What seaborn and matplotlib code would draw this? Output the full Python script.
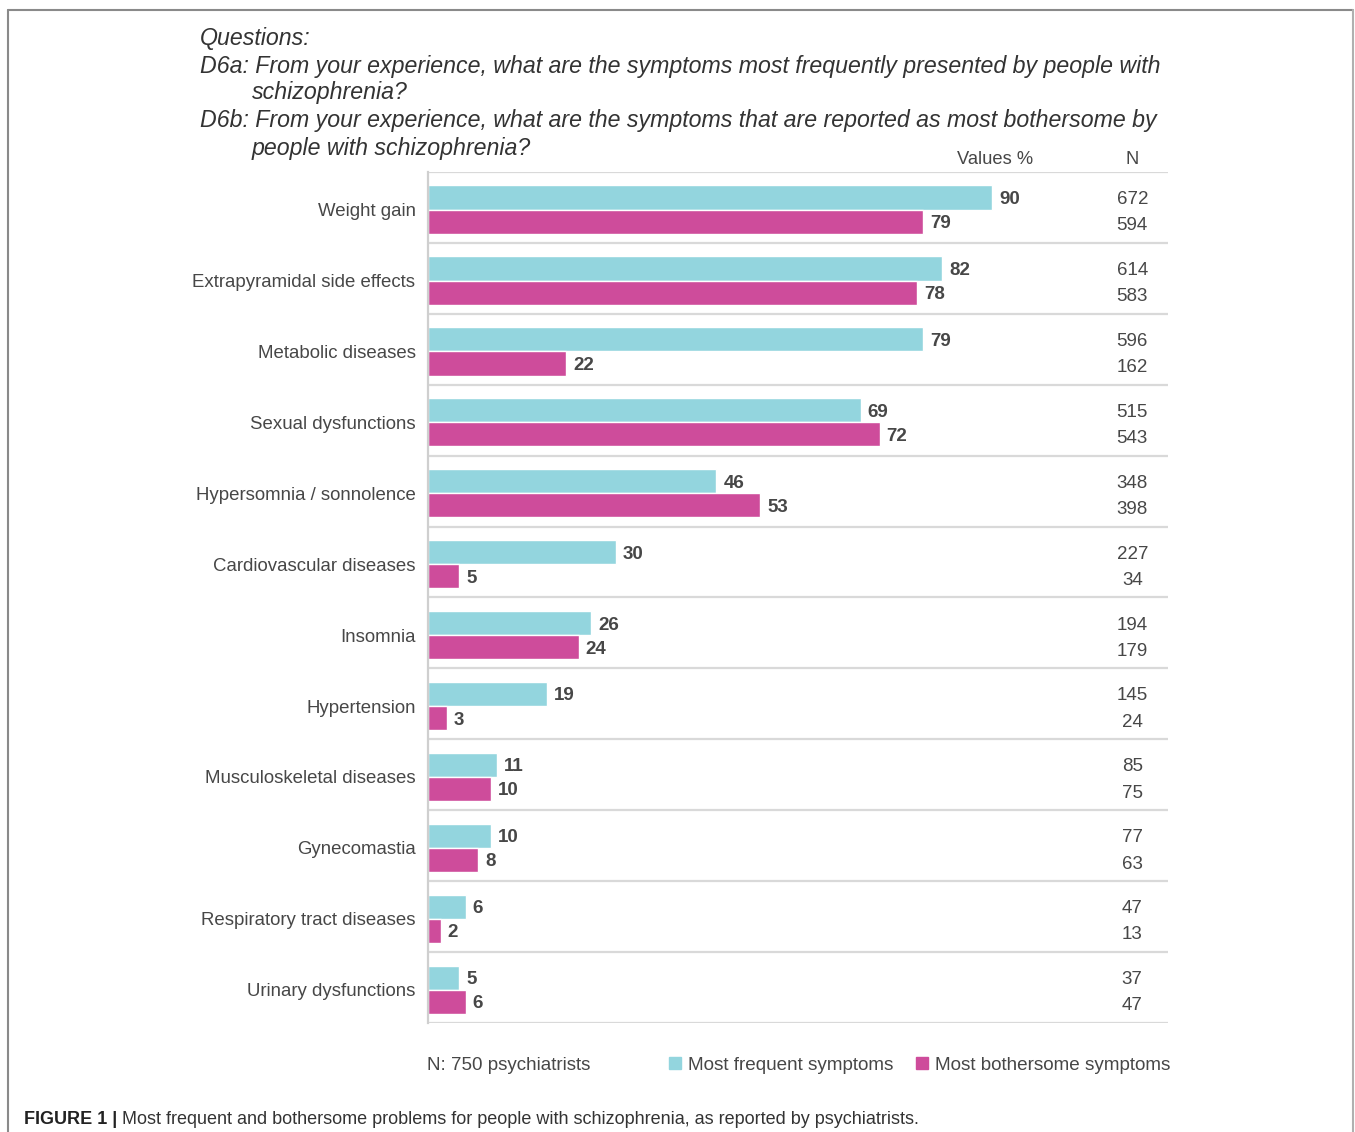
import matplotlib
matplotlib.use("Agg")
import matplotlib.pyplot as plt
import seaborn as sns
import pandas as pd
from matplotlib.lines import Line2D

# Survey results: share of psychiatrists (%) and counts (N)
symptoms = [
    "Weight gain", "Extrapyramidal side effects", "Metabolic diseases",
    "Sexual dysfunctions", "Hypersomnia / sonnolence", "Cardiovascular diseases",
    "Insomnia", "Hypertension", "Musculoskeletal diseases", "Gynecomastia",
    "Respiratory tract diseases", "Urinary dysfunctions",
]
frequent_pct = [90, 82, 79, 69, 46, 30, 26, 19, 11, 10, 6, 5]
bothersome_pct = [79, 78, 22, 72, 53, 5, 24, 3, 10, 8, 2, 6]
frequent_n = [672, 614, 596, 515, 348, 227, 194, 145, 85, 77, 47, 37]
bothersome_n = [594, 583, 162, 543, 398, 34, 179, 24, 75, 63, 13, 47]
series_names = ["Most frequent symptoms", "Most bothersome symptoms"]

CYAN = "#93D5DE"
MAGENTA = "#CE4C9B"
TEXT = "#474747"
GRID = "#d9d9d9"

sns.set_theme(style="white")
plt.rcParams["font.family"] = ["Liberation Sans", "DejaVu Sans"]

df = pd.DataFrame({
    "symptom": symptoms * 2,
    "value": frequent_pct + bothersome_pct,
    "series": [series_names[0]] * len(symptoms) + [series_names[1]] * len(symptoms),
})

W, H = 1355, 1132
fig = plt.figure(figsize=(W / 100, H / 100), dpi=100)
ax = fig.add_axes([428 / W, 1 - 1023 / H, (1168 - 428) / W, (1023 - 172) / H])

sns.barplot(data=df, y="symptom", x="value", hue="series", orient="h",
            palette=[CYAN, MAGENTA], width=0.68, ax=ax, legend=False,
            saturation=1, errorbar=None)

# rows sit slightly below the centre of each band
off = 0.53
ax.set_xlim(0, 118)
ax.set_ylim(len(symptoms) - off, -off)
ax.set_xlabel("")
ax.set_ylabel("")
ax.set_xticks([])
ax.tick_params(axis="y", length=0, pad=9, labelsize=13.4, labelcolor=TEXT)

for side in ["top", "right", "bottom"]:
    ax.spines[side].set_visible(False)
ax.spines["left"].set_color("#cfcfcf")
ax.spines["left"].set_linewidth(1.6)

# horizontal separators between categories
for k in range(len(symptoms) + 1):
    ax.axhline(k - off, color=GRID, lw=1.6, zorder=0)

# value labels and N column
n_lists = [frequent_n, bothersome_n]
n_shift = [0.0, 0.03]
for cont, ns, dy in zip(ax.containers, n_lists, n_shift):
    labels = ax.bar_label(cont, fmt="{:.0f}", padding=5, fontsize=13.5,
                          fontweight="bold", color=TEXT)
    for t in labels:
        t.set_verticalalignment("center_baseline")
    for patch, n in zip(cont.patches, ns):
        yc = patch.get_y() + patch.get_height() / 2 + dy
        ax.text(112.3, yc, str(n), ha="center", va="center_baseline",
                fontsize=13.5, color=TEXT)

ax.text(90.5, -off - 0.18, "Values %", ha="center", va="center", fontsize=13.2, color=TEXT)
ax.text(112.3, -off - 0.18, "N", ha="center", va="center", fontsize=13.2, color=TEXT)

# question header
qcolor = "#333333"
qsize = 16.7
fig.text(200 / W, 1 - 38 / H, "Questions:", fontsize=qsize, style="italic",
         color=qcolor, va="center")
fig.text(200 / W, 1 - 66 / H,
         "D6a: From your experience, what are the symptoms most frequently presented by people with",
         fontsize=qsize, style="italic", color=qcolor, va="center")
fig.text(252 / W, 1 - 93 / H, "schizophrenia?", fontsize=qsize, style="italic",
         color=qcolor, va="center")
fig.text(200 / W, 1 - 121 / H,
         "D6b: From your experience, what are the symptoms that are reported as most bothersome by",
         fontsize=qsize, style="italic", color=qcolor, va="center")
fig.text(252 / W, 1 - 149 / H, "people with schizophrenia?", fontsize=qsize,
         style="italic", color=qcolor, va="center")

# footer: sample size and legend
fig.text(427 / W, 1 - 1066 / H, "N: 750 psychiatrists", fontsize=13.5,
         color=TEXT, va="center")
handles = [Line2D([0], [0], marker="s", ls="", markersize=9,
                  markerfacecolor=c, markeredgecolor=c) for c in (CYAN, MAGENTA)]
fig.legend(handles, series_names, loc="center right", ncol=2, frameon=False,
           bbox_to_anchor=(1170 / W, 1 - 1065 / H), fontsize=13.6,
           handletextpad=0.25, columnspacing=1.15, labelcolor=TEXT,
           borderpad=0, borderaxespad=0, handlelength=0.8)

# caption
bold = fig.text(24 / W, 1 - 1119 / H, "FIGURE 1 | ", fontsize=13.0,
                fontweight="bold", color="#222222", va="center")
ax.annotate("Most frequent and bothersome problems for people with schizophrenia, as reported by psychiatrists.",
            xy=(1, 0.5), xycoords=bold, va="center", ha="left",
            fontsize=13.0, color="#333333", annotation_clip=False)

# page frame
frame_kw = dict(transform=fig.transFigure, color="#8a8a8a", lw=1.5, clip_on=False)
fig.add_artist(Line2D([8 / W, 8 / W], [0, 1 - 10 / H], **frame_kw))
fig.add_artist(Line2D([8 / W, 1353 / W], [1 - 10 / H, 1 - 10 / H], **frame_kw))
fig.add_artist(Line2D([1353 / W, 1353 / W], [0, 1 - 10 / H],
                      transform=fig.transFigure, color="#b0b0b0", lw=1.5, clip_on=False))

fig.savefig("out.png", dpi=100, facecolor="white")
